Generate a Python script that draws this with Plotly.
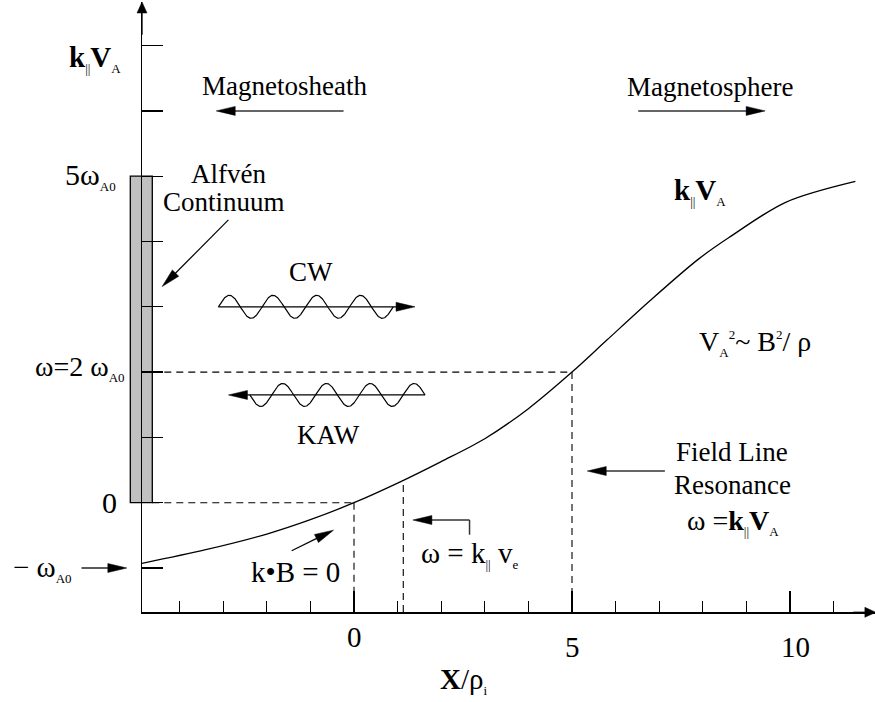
import numpy as np
import plotly.graph_objects as go

# ---------------- data ----------------
# k_par V_A profile across the boundary (x in rho_i, y in omega_A0)
curve_x = [-4.87, -3.4, -2.0, -1.0, 0.0, 1.0, 2.0, 3.0, 4.0, 5.0, 5.8, 6.8, 7.9, 8.6, 9.9, 11.5]
curve_y = [-0.93, -0.72, -0.48, -0.26, 0.0, 0.30, 0.63, 0.98, 1.44, 2.0, 2.49, 3.1, 3.73, 4.06, 4.6, 4.92]

x_tick_labels = ["0", "5", "10"]
x_tick_vals = [0, 5, 10]
x_tick_label_y = [-2.06, -2.205, -2.205]

continuum_band = [0, 5]          # Alfven continuum, omega range
resonance_x = [0, 1.13, 5]       # k.B=0, omega=k v_e, field line resonance
resonance_top = [0, 0.27, 2]
level_y = [0, 2]                 # omega = 0 and omega = 2 omega_A0

# ---------------- geometry of the canvas ----------------
W, H = 875, 702
SX, SY = 43.6, 65.3              # px per unit
X0PX, Y0PX = 354.0, 502.7        # pixel position of data (0,0)
XR = [-X0PX / SX, (W - X0PX) / SX]
YR = [(Y0PX - H) / SY, Y0PX / SY]
AX_LEFT_PX, AX_BOT_PX, AX_TOP_PX = 142.0, 612.3, 2.0
ax_x0 = (AX_LEFT_PX - X0PX) / SX
ax_y0 = (Y0PX - AX_BOT_PX) / SY
ax_y1 = (Y0PX - AX_TOP_PX) / SY
bar_x = [(130.3 - X0PX) / SX, (152.3 - X0PX) / SX]

FONT = "Liberation Serif"
fig = go.Figure()
shapes = []
annotations = []


def arrow(tail, tip, color="#333", width=1.5, L=19, Wd=4.5):
    (x0, y0), (x1, y1) = tail, tip
    dx, dy = (x1 - x0) * SX, (y1 - y0) * SY
    n = np.hypot(dx, dy)
    ux, uy = dx / n, dy / n
    bx, by = x1 * SX - L * ux, y1 * SY - L * uy
    px, py = -uy, ux
    p1 = ((bx + Wd * px) / SX, (by + Wd * py) / SY)
    p2 = ((bx - Wd * px) / SX, (by - Wd * py) / SY)
    shapes.append(dict(type="line", xref="x", yref="y", x0=x0, y0=y0,
                       x1=(bx + 2 * ux) / SX, y1=(by + 2 * uy) / SY,
                       line=dict(color=color, width=width)))
    shapes.append(dict(type="path", xref="x", yref="y",
                       path=f"M{x1},{y1} L{p1[0]},{p1[1]} L{p2[0]},{p2[1]} Z",
                       fillcolor="black", line=dict(color="black", width=0.5)))


def text(t, x, y, size=27, xanchor="center"):
    annotations.append(dict(text=t, x=x, y=y, xref="x", yref="y", showarrow=False,
                            xanchor=xanchor, yanchor="middle",
                            font=dict(family=FONT, size=size, color="black")))


def wave(x_start, x_end, yc, sign, cycles=4, amp=0.176):
    t = np.linspace(0, 1, 400)
    xs = x_start + (x_end - x_start) * t
    ys = yc + sign * amp * np.sin(2 * np.pi * cycles * t)
    fig.add_trace(go.Scatter(x=xs, y=ys, mode="lines", xaxis="x", yaxis="y",
                             line=dict(color="black", width=1.2),
                             hoverinfo="skip", showlegend=False))


# ---------------- main curve on the real axes ----------------
fig.add_trace(go.Scatter(x=curve_x, y=curve_y, mode="lines", xaxis="x2", yaxis="y2",
                         line=dict(color="black", width=1.3, shape="spline", smoothing=0.9),
                         cliponaxis=False, hoverinfo="skip", showlegend=False))

# ---------------- Alfven continuum bar ----------------
shapes.append(dict(type="rect", xref="x", yref="y", x0=bar_x[0], x1=bar_x[1],
                   y0=continuum_band[0], y1=continuum_band[1], layer="below",
                   fillcolor="#c0c0c0", line=dict(color="black", width=1.3)))

# ---------------- dashed guide lines ----------------
for ly, rx in zip(level_y, [0, 5]):
    shapes.append(dict(type="line", xref="x", yref="y", x0=bar_x[1], x1=rx, y0=ly, y1=ly,
                       line=dict(color="black", width=1.1, dash="7px,5px")))
for rx, top in zip(resonance_x, resonance_top):
    shapes.append(dict(type="line", xref="x", yref="y", x0=rx, x1=rx, y0=top, y1=ax_y0,
                       line=dict(color="black", width=1.1, dash="7px,5px")))

# ---------------- waves ----------------
wave(-3.11, 0.90, 3.0, +1)
arrow((-3.11, 3.0), (1.40, 3.0), color="black", width=1.3)
wave(-2.39, 1.63, 1.65, -1)
arrow((1.63, 1.65), (-2.88, 1.65), color="black", width=1.3)

# ---------------- arrows ----------------
arrow((-0.24, 6.0), (-3.16, 6.0))
arrow((6.52, 6.0), (9.43, 6.0))
arrow((-2.88, 4.33), (-4.40, 3.31), color="black", width=1.2)
arrow((7.13, 0.485), (5.35, 0.485))
shapes.append(dict(type="line", xref="x", yref="y", x0=2.65, x1=2.65, y0=-0.49, y1=-0.265,
                   line=dict(color="#333", width=1.5)))
arrow((2.65, -0.265), (1.35, -0.265))
arrow((-1.43, -0.735), (-0.47, -0.42), color="black", width=1.2)
arrow((-6.25, -1.0), (-5.21, -1.0), color="black", width=1.3)
# axis arrow heads
arrow((ax_x0, ax_y1 - 0.5), (ax_x0, ax_y1), color="black", width=1.3, L=11, Wd=5)
arrow((XR[1] - 0.5, ax_y0), (XR[1] + 0.02, ax_y0), color="black", width=1.3, L=11, Wd=5)

# ---------------- texts ----------------
SUBS = '<span style="font-size:13px">'
kva = f'<b>k</b><sub>{SUBS}||</span></sub><b>V</b><sub>{SUBS}A</span></sub>'
text(kva, -5.94, 6.80, size=29)
text("Magnetosheath", -1.59, 6.38)
text("Magnetosphere", 8.17, 6.36)
text("Alfvén", -2.87, 5.03)
text("Continuum", -2.98, 4.61)
text("CW", -0.99, 3.54)
text("KAW", -0.59, 1.04)
text(kva, 7.94, 4.76, size=29)
text(f'V<sub>{SUBS}A</span></sub><sup>{SUBS}2</span></sup>~ B<sup>{SUBS}2</span></sup>/ ρ', 9.2, 2.44, size=28)
text("Field Line", 8.67, 0.78)
text("Resonance", 8.68, 0.27)
text(f'ω =<b>k</b><sub>{SUBS}||</span></sub><b>V</b><sub>{SUBS}A</span></sub>', 8.69, -0.30, size=28)
text(f'ω = k<sub>{SUBS}||</span></sub> v<sub>{SUBS}e</span></sub>', 2.65, -0.80, size=29)
text("k•B = 0", -1.35, -1.06, size=29)
text(f'5ω<sub>{SUBS}A0</span></sub>', -5.42, 5.0, size=30, xanchor="right")
text(f'ω=2 ω<sub>{SUBS}A0</span></sub>', -5.21, 2.07, size=28, xanchor="right")
text("0", -5.40, 0.0, size=30, xanchor="right")
text(f'− ω<sub>{SUBS}A0</span></sub>', -6.42, -1.0, size=29, xanchor="right")
for lab, xv, yv in zip(x_tick_labels, x_tick_vals, x_tick_label_y):
    text(lab, xv + (0.12 if lab == "10" else 0.02), yv, size=29)
text(f'<b>X</b>/ρ<sub>{SUBS}i</span></sub>', 2.5, -2.72, size=29)

# ---------------- layout ----------------
axis_common = dict(showgrid=False, zeroline=False, showline=True, linecolor="black",
                   linewidth=1.3, ticks="inside", tickcolor="black", tickwidth=1.3,
                   showticklabels=False, fixedrange=True)
fig.update_layout(
    width=W, height=H, margin=dict(l=0, r=0, t=0, b=0),
    paper_bgcolor="white", plot_bgcolor="rgba(0,0,0,0)", showlegend=False,
    xaxis=dict(domain=[0, 1], range=XR, visible=False, fixedrange=True),
    yaxis=dict(domain=[0, 1], range=YR, visible=False, fixedrange=True),
    xaxis2=dict(domain=[AX_LEFT_PX / W, 1], range=[ax_x0, XR[1]], anchor="y2",
                tick0=0, dtick=5, ticklen=21,
                minor=dict(tick0=0, dtick=1, ticks="inside", ticklen=11,
                           tickcolor="black", tickwidth=1.3, showgrid=False),
                **axis_common),
    yaxis2=dict(domain=[(H - AX_BOT_PX) / H, (H - AX_TOP_PX) / H], range=[ax_y0, ax_y1],
                anchor="x2", tick0=0, dtick=1, ticklen=21, **axis_common),
    shapes=shapes, annotations=annotations,
)

fig.write_html("out.html", config={"displayModeBar": False, "staticPlot": True},
               post_script="document.body.style.margin='0px';document.body.style.overflow='hidden';")
